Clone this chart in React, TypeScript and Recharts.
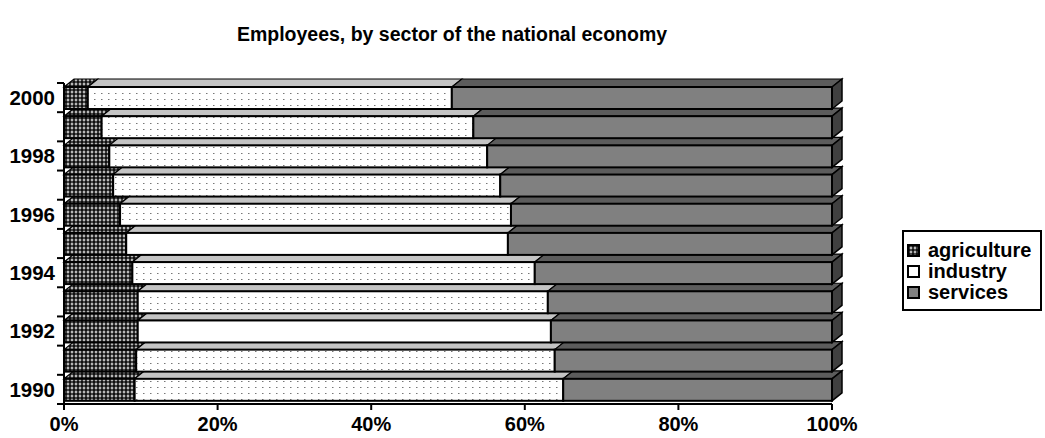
import React from 'react';
import { BarChart, Bar, XAxis, YAxis } from 'recharts';

// ---- data ----
const years = ['1990', '1991', '1992', '1993', '1994', '1995', '1996', '1997', '1998', '1999', '2000'];
const agriculture = [9.2, 9.4, 9.6, 9.6, 8.9, 8.1, 7.3, 6.4, 5.9, 4.9, 3.1];
const industry = [55.8, 54.5, 53.8, 53.4, 52.4, 49.7, 50.9, 50.4, 49.2, 48.4, 47.4];
const services = [35.0, 36.1, 36.6, 37.0, 38.7, 42.2, 41.8, 43.2, 44.9, 46.7, 49.5];
const percentTicks = [0, 20, 40, 60, 80, 100];
const seriesNames = ['agriculture', 'industry', 'services'];
const plainIndustryYears = ['1992', '1995'];
const title = 'Employees, by sector of the national economy';

const data = years.map((year, i) => ({
  year,
  agriculture: agriculture[i],
  industry: industry[i],
  services: services[i],
}));

// ---- layout ----
const W = 1045;
const H = 438;
const M = { top: 83, right: 213, bottom: 4, left: 4 };
const Y_AXIS_W = 60;
const X_AXIS_H = 30;
const PLOT_LEFT = M.left + Y_AXIS_W;
const PLOT_H = H - M.top - M.bottom - X_AXIS_H;
const BAND = PLOT_H / years.length;
const DX = 10;
const DY = 8;
const FONT = '"Liberation Sans", Arial, Helvetica, sans-serif';

const frontFills: Record<string, (p: any) => string> = {
  agriculture: () => 'url(#patAgri)',
  industry: (p: any) => (plainIndustryYears.includes(p?.year) ? '#ffffff' : 'url(#patInd)'),
  services: () => '#808080',
};
const topFills: Record<string, string> = {
  agriculture: 'url(#patAgri)',
  industry: '#c4c4c4',
  services: '#5c5c5c',
};
const legendFills: Record<string, string> = {
  agriculture: 'url(#patAgri)',
  industry: '#ffffff',
  services: '#808080',
};

const make3D = (key: string, side?: string) => (props: any) => {
  const { x, y, width, height, payload } = props;
  if (width == null || !(width > 0)) return <g />;
  return (
    <g>
      <polygon
        points={`${x},${y} ${x + DX},${y - DY} ${x + width + DX},${y - DY} ${x + width},${y}`}
        fill={topFills[key]}
        stroke="#000"
        strokeWidth={1.2}
      />
      {side && (
        <polygon
          points={`${x + width},${y} ${x + width + DX},${y - DY} ${x + width + DX},${y + height - DY} ${x + width},${y + height}`}
          fill={side}
          stroke="#000"
          strokeWidth={1.5}
        />
      )}
      <rect x={x} y={y} width={width} height={height} fill={frontFills[key](payload)} stroke="#000" strokeWidth={2} />
    </g>
  );
};

const YTick = (props: any) => {
  const { x, y, payload, index } = props;
  const v = String(payload?.value ?? '');
  const show = Number(v) % 2 === 0;
  return (
    <g>
      <line x1={PLOT_LEFT - 7} x2={PLOT_LEFT} y1={y + BAND / 2} y2={y + BAND / 2} stroke="#000" strokeWidth={2} />
      {index === years.length - 1 && (
        <line x1={PLOT_LEFT - 7} x2={PLOT_LEFT} y1={y - BAND / 2} y2={y - BAND / 2} stroke="#000" strokeWidth={2} />
      )}
      {show && (
        <text
          x={x}
          y={y}
          dy="0.355em"
          textAnchor="end"
          fontFamily={FONT}
          fontWeight="bold"
          fontSize={20.5}
          fill="#000"
        >
          {v}
        </text>
      )}
    </g>
  );
};

export default function App() {
  return (
    <div style={{ position: 'relative', width: W, height: H, background: '#fff', fontFamily: FONT }}>
      <style>{'body{margin:0;background:#fff}'}</style>
      <svg width={0} height={0} style={{ position: 'absolute' }}>
        <defs>
          <pattern id="patAgri" width={4} height={4} patternUnits="userSpaceOnUse">
            <rect width={4} height={4} fill="#ffffff" />
            <circle cx={2} cy={2} r={1.95} fill="#111" />
          </pattern>
          <pattern id="patInd" width={7} height={6} patternUnits="userSpaceOnUse">
            <rect width={7} height={6} fill="#ffffff" />
            <rect x={3} y={3} width={1.5} height={1} fill="#777" />
          </pattern>
        </defs>
      </svg>
      <div
        style={{
          position: 'absolute',
          left: 0,
          top: 23,
          width: 904,
          textAlign: 'center',
          fontSize: 19.5,
          fontWeight: 'bold',
          color: '#000',
          whiteSpace: 'nowrap',
        }}
      >
        {title}
      </div>
      <BarChart width={W} height={H} data={data} layout="vertical" margin={M}>
        <XAxis
          type="number"
          domain={[0, 100]}
          ticks={percentTicks}
          tickFormatter={(v: number) => `${v}%`}
          height={X_AXIS_H}
          tickSize={6}
          tickMargin={7}
          axisLine={{ stroke: '#000', strokeWidth: 2 }}
          tickLine={{ stroke: '#000', strokeWidth: 2 }}
          tick={{ fontSize: 20, fontWeight: 'bold', fill: '#000', fontFamily: FONT }}
        />
        <YAxis
          type="category"
          dataKey="year"
          reversed
          width={Y_AXIS_W}
          interval={0}
          tickSize={0}
          tickMargin={9}
          tickLine={false}
          axisLine={{ stroke: '#000', strokeWidth: 2 }}
          tick={<YTick />}
        />
        <Bar dataKey="agriculture" stackId="a" barSize={22} fill="#333" isAnimationActive={false} shape={make3D('agriculture')} />
        <Bar dataKey="industry" stackId="a" barSize={22} fill="#fff" isAnimationActive={false} shape={make3D('industry')} />
        <Bar dataKey="services" stackId="a" barSize={22} fill="#808080" isAnimationActive={false} shape={make3D('services', '#404040')} />
      </BarChart>
      <div
        style={{
          position: 'absolute',
          left: 902,
          top: 230,
          width: 136,
          border: '2px solid #000',
          padding: '8px 0 6px 0',
          background: '#fff',
          fontSize: 20,
          fontWeight: 'bold',
          color: '#000',
        }}
      >
        {seriesNames.map((name) => (
          <div key={name} style={{ display: 'flex', alignItems: 'center', height: 21, paddingLeft: 3 }}>
            <svg width={13} height={13} style={{ marginRight: 8, flex: 'none' }}>
              <rect x={1} y={1} width={11} height={11} fill={legendFills[name]} stroke="#000" strokeWidth={2} />
            </svg>
            <span style={{ lineHeight: '21px' }}>{name}</span>
          </div>
        ))}
      </div>
    </div>
  );
}
